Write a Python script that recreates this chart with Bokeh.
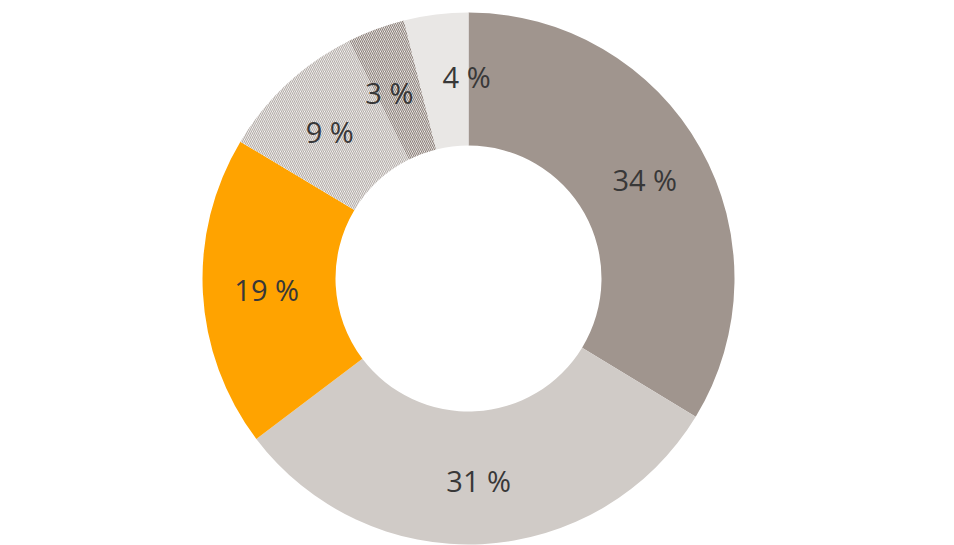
import math
from bokeh.plotting import figure
from bokeh.models import ColumnDataSource, Range1d
from bokeh.core.properties import value
from bokeh.embed import file_html
from bokeh.resources import INLINE

labels = ["34 %", "31 %", "19 %", "9 %", "3 %", "4 %"]
shares = [33.7, 31.0, 18.9, 9.0, 3.5, 3.9]
fills = ["#A0958E", "#D0CBC7", "#FFA300", "#FFFFFF", "#FFFFFF", "#E9E7E5"]
hatches = [" ", " ", " ", "\\", "\\", " "]
hatch_colors = ["#A0958E", "#A0958E", "#A0958E", "#B5AEA9", "#8E827B", "#A0958E"]

# small label nudges (degrees) so the labels of the thin slices do not collide
label_nudge = [0, 0, 0, 0.5, 2.7, -6.5]

total = sum(shares)
starts, ends, lx, ly = [], [], [], []
acc = 0.0
for s, nd in zip(shares, label_nudge):
    a0 = math.pi / 2 - 2 * math.pi * acc / total
    a1 = math.pi / 2 - 2 * math.pi * (acc + s) / total
    starts.append(a0)
    ends.append(a1)
    mid = (a0 + a1) / 2 + math.radians(nd)
    lx.append(0.76 * math.cos(mid))
    ly.append(0.76 * math.sin(mid))
    acc += s

src = ColumnDataSource(dict(start=starts, end=ends, fill=fills, hatch=hatches,
                            hcol=hatch_colors, label=labels, lx=lx, ly=ly))

W, H = 938, 545
R = 266.0
cx, cy = 468.0, 278.0
p = figure(width=W, height=H, output_backend="svg", toolbar_location=None,
           x_range=Range1d(-cx / R, (W - cx) / R), y_range=Range1d(-(H - cy) / R, cy / R),
           min_border=0)
p.axis.visible = False
p.grid.visible = False
p.outline_line_color = None
p.background_fill_color = "white"

p.annular_wedge(x=0, y=0, inner_radius=0.5, outer_radius=1.0,
                start_angle="start", end_angle="end", direction="clock",
                fill_color="fill", hatch_pattern="hatch", hatch_color="hcol",
                hatch_scale=4, hatch_weight=1.2, line_color=None, source=src)

p.text(x="lx", y="ly", text="label", source=src, text_align="center",
       text_baseline="middle", text_font=value("Open Sans"),
       text_font_size="29px", text_color="#383838")

open("out.html", "w").write(file_html(p, INLINE))
